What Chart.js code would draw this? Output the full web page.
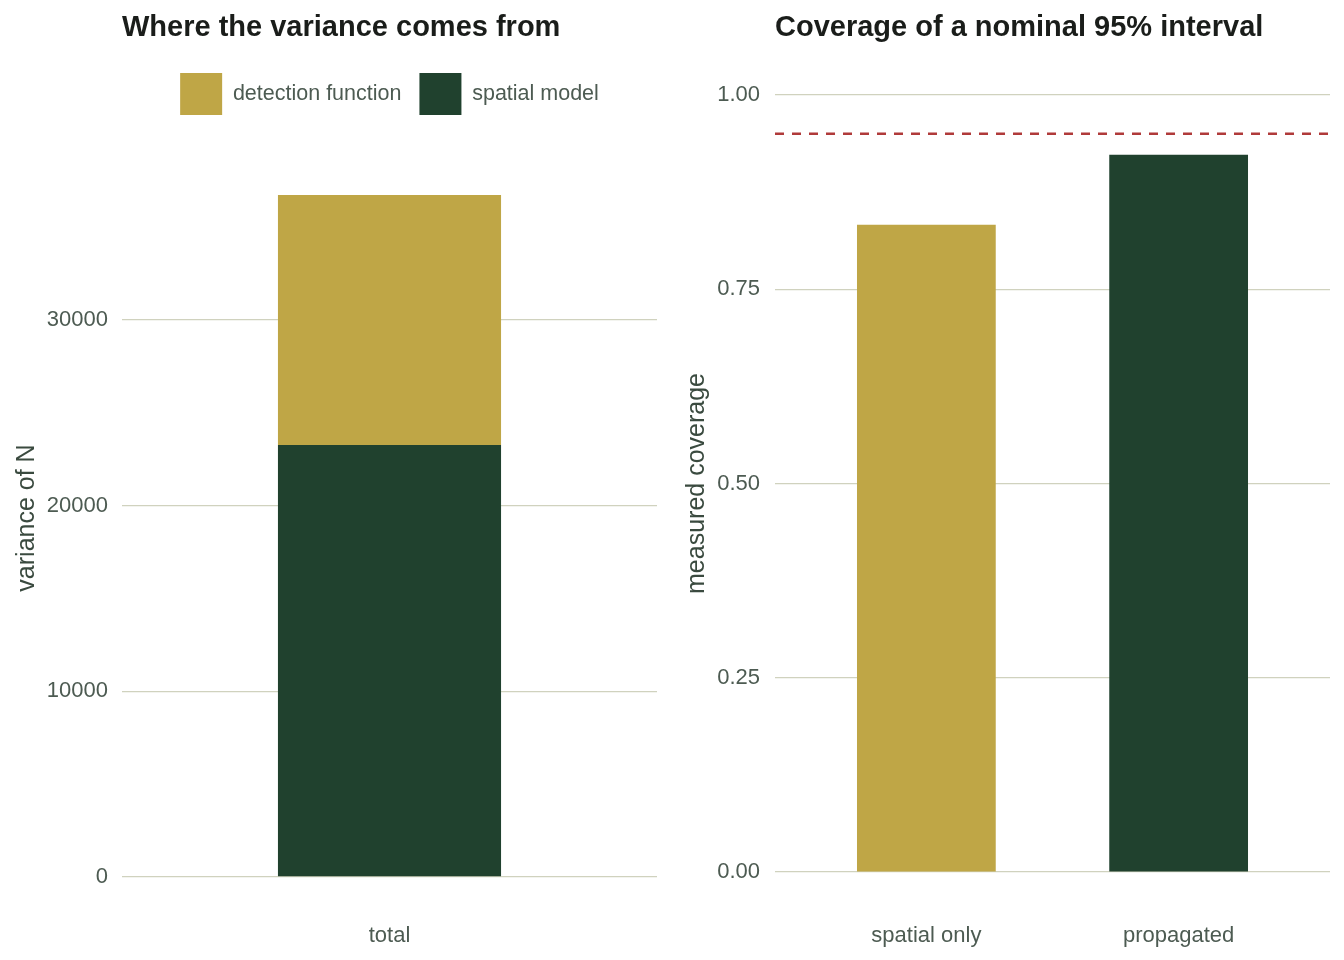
<!DOCTYPE html>
<html>
<head>
<meta charset="utf-8">
<script src="https://cdn.jsdelivr.net/npm/chart.js@4.4.1/dist/chart.umd.min.js"></script>
<style>
  body { margin: 0; background: #fff; font-family: "Liberation Sans", Arial, sans-serif; }
  .panel { position: absolute; top: 0; width: 672px; height: 960px; }
  .title { position: absolute; top: 9px; font-size: 29px; line-height: 34px; font-weight: bold; color: #1a1d1a; white-space: nowrap; }
</style>
</head>
<body>
<div class="panel" style="left:0"><canvas id="varChart"></canvas></div>
<div class="panel" style="left:672px"><canvas id="covChart"></canvas></div>
<div class="title" style="left:122px">Where the variance comes from</div>
<div class="title" style="left:775px">Coverage of a nominal 95% interval</div>
<script>
// left panel: variance decomposition
const varCategories = ['total'];
const varSeries = ['detection function', 'spatial model'];
const detectionVar = [13460];
const spatialVar = [23270];
const varTicks = [0, 10000, 20000, 30000];

// right panel: coverage
const covCategories = ['spatial only', 'propagated'];
const covValues = [0.833, 0.923];
const covTicks = [0, 0.25, 0.5, 0.75, 1];
const nominal = 0.95;

const gold = '#BFA646';
const green = '#20412E';
const gridColor = '#D0D2BE';
const tickColor = '#4D5B52';
const titleColor = '#3A4A3F';
const font = '"Liberation Sans", Arial, sans-serif';

Chart.defaults.font.family = font;
Chart.defaults.animation = false;

function toXY(values) {
    return values.map(function (v, i) { return { x: i + 1, y: v }; });
}

new Chart(document.getElementById('varChart'), {
    type: 'bar',
    data: {
        datasets: [{
            label: varSeries[1],
            data: toXY(spatialVar),
            backgroundColor: green,
            stack: 'total',
            borderWidth: 0,
            categoryPercentage: 1,
            barPercentage: 0.417
        }, {
            label: varSeries[0],
            data: toXY(detectionVar),
            backgroundColor: gold,
            stack: 'total',
            borderWidth: 0,
            categoryPercentage: 1,
            barPercentage: 0.417
        }]
    },
    options: {
        responsive: true,
        maintainAspectRatio: false,
        layout: { padding: { top: 55, right: 15, left: 0, bottom: 0 } },
        plugins: {
            tooltip: { enabled: false },
            legend: {
                position: 'top',
                fullSize: false,
                reverse: true,
                labels: {
                    boxWidth: 42,
                    boxHeight: 42,
                    padding: 18,
                    color: tickColor,
                    font: { size: 21.5 }
                }
            }
        },
        scales: {
            x: {
                type: 'linear',
                offset: false,
                min: 0.4,
                max: 1.6,
                grid: { display: false },
                border: { display: false },
                afterBuildTicks: function (scale) {
                    scale.ticks = varCategories.map(function (c, i) { return { value: i + 1 }; });
                },
                afterFit: function (scale) { scale.height = 49; },
                ticks: {
                    color: tickColor,
                    font: { size: 22 },
                    padding: 4,
                    maxRotation: 0,
                    callback: function (v) { return varCategories[v - 1]; }
                }
            },
            y: {
                stacked: true,
                min: -1830,
                max: 40500,
                grid: { color: gridColor, lineWidth: 1.3, drawTicks: false },
                border: { display: false },
                afterBuildTicks: function (scale) {
                    scale.ticks = varTicks.map(function (v) { return { value: v }; });
                },
                afterFit: function (scale) { scale.width = 122; },
                ticks: {
                    color: tickColor,
                    font: { size: 22 },
                    padding: 14,
                    callback: function (v) { return String(v); }
                },
                title: {
                    display: true,
                    text: 'variance of N',
                    color: titleColor,
                    font: { size: 25 },
                    padding: { top: 12, bottom: 0 }
                }
            }
        }
    }
});

new Chart(document.getElementById('covChart'), {
    type: 'bar',
    data: {
        datasets: [{
            label: 'coverage',
            data: toXY(covValues),
            backgroundColor: [gold, green],
            borderWidth: 0,
            categoryPercentage: 1,
            barPercentage: 0.55
        }, {
            type: 'line',
            label: 'nominal',
            data: [{ x: 0.4, y: nominal }, { x: 2.6, y: nominal }],
            borderColor: '#B03A3A',
            borderWidth: 2.5,
            borderDash: [9, 8],
            pointRadius: 0,
            fill: false
        }]
    },
    options: {
        responsive: true,
        maintainAspectRatio: false,
        layout: { padding: { top: 56, right: 14, left: 0, bottom: 0 } },
        plugins: {
            tooltip: { enabled: false },
            legend: { display: false }
        },
        scales: {
            x: {
                type: 'linear',
                offset: false,
                min: 0.4,
                max: 2.6,
                grid: { display: false },
                border: { display: false },
                afterBuildTicks: function (scale) {
                    scale.ticks = covCategories.map(function (c, i) { return { value: i + 1 }; });
                },
                afterFit: function (scale) { scale.height = 49; },
                ticks: {
                    color: tickColor,
                    font: { size: 22 },
                    padding: 4,
                    maxRotation: 0,
                    callback: function (v) { return covCategories[v - 1]; }
                }
            },
            y: {
                min: -0.05,
                max: 1.05,
                grid: { color: gridColor, lineWidth: 1.3, drawTicks: false },
                border: { display: false },
                afterBuildTicks: function (scale) {
                    scale.ticks = covTicks.map(function (v) { return { value: v }; });
                },
                afterFit: function (scale) { scale.width = 103; },
                ticks: {
                    color: tickColor,
                    font: { size: 22 },
                    padding: 15,
                    callback: function (v) { return v.toFixed(2); }
                },
                title: {
                    display: true,
                    text: 'measured coverage',
                    color: titleColor,
                    font: { size: 25 },
                    padding: { top: 10, bottom: 0 }
                }
            }
        }
    }
});
</script>
</body>
</html>
